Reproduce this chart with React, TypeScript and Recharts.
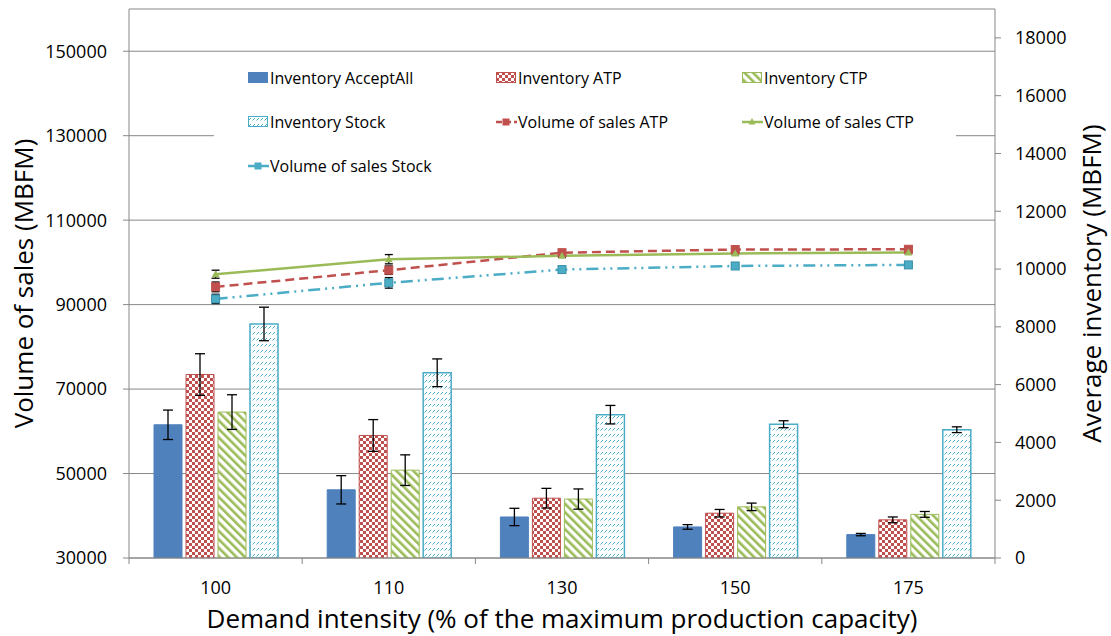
import React from "react";
import {
  Bar,
  CartesianGrid,
  ComposedChart,
  ErrorBar,
  Label,
  Legend,
  Line,
  XAxis,
  YAxis,
} from "recharts";

const demandLevels = ["100", "110", "130", "150", "175"];

// average inventory (right axis)
const invAcceptAll = [4610, 2360, 1420, 1075, 810];
const invAcceptAllErr = [510, 490, 300, 80, 40];
const invATP = [6350, 4240, 2070, 1550, 1320];
const invATPErr = [720, 550, 340, 130, 100];
const invCTP = [5050, 3040, 2040, 1770, 1510];
const invCTPErr = [600, 530, 350, 130, 100];
const invStock = [8100, 6410, 4960, 4630, 4440];
const invStockErr = [580, 480, 320, 120, 100];

// volume of sales (left axis)
const salesATP = [94200, 98150, 102300, 103050, 103100];
const salesATPErr = [1150, 1000, 400, 350, 300];
const salesCTP = [97200, 100750, 101550, 102100, 102350];
const salesCTPErr = [950, 1100, 350, 300, 300];
const salesStock = [91350, 95150, 98300, 99150, 99400];
const salesStockErr = [1100, 1250, 450, 350, 300];

const leftTicks = [30000, 50000, 70000, 90000, 110000, 130000, 150000];
const rightTicks = [0, 2000, 4000, 6000, 8000, 10000, 12000, 14000, 16000, 18000];

const BLUE = "#4F81BD";
const RED = "#C0504D";
const GREEN = "#9BBB59";
const AQUA = "#4BACC6";
const AXIS = "#878787";
const FONT = "'Open Sans', sans-serif";

const data = demandLevels.map((label, i) => ({
  label,
  acceptAll: invAcceptAll[i],
  acceptAllErr: invAcceptAllErr[i],
  atp: invATP[i],
  atpErr: invATPErr[i],
  ctp: invCTP[i],
  ctpErr: invCTPErr[i],
  stock: invStock[i],
  stockErr: invStockErr[i],
  salesAtp: salesATP[i],
  salesAtpErr: salesATPErr[i],
  salesCtp: salesCTP[i],
  salesCtpErr: salesCTPErr[i],
  salesStock: salesStock[i],
  salesStockErr: salesStockErr[i],
}));

const TICK_SIZE = 6;
const TICK_MARGIN = 17;

function DemandTick(props: any) {
  const { x, y, payload, index, visibleTicksCount, width } = props;
  const half = payload?.offset ?? width / visibleTicksCount / 2;
  const y1 = y - TICK_MARGIN - TICK_SIZE;
  const y2 = y - TICK_MARGIN;
  return (
    <g>
      <line x1={x - half} x2={x - half} y1={y1} y2={y2} stroke={AXIS} />
      {index === visibleTicksCount - 1 && (
        <line x1={x + half} x2={x + half} y1={y1} y2={y2} stroke={AXIS} />
      )}
      <text x={x} y={y} dy="0.71em" textAnchor="middle" fontSize={18} fill="#000" fontFamily={FONT}>
        {payload.value}
      </text>
    </g>
  );
}

function squareDot(color: string, size: number, stroke?: string) {
  return (props: any) => {
    const { cx, cy, index } = props;
    if (cx == null || cy == null) return <g key={index} />;
    return (
      <rect
        key={index}
        x={cx - size / 2}
        y={cy - size / 2}
        width={size}
        height={size}
        fill={color}
        stroke={stroke ?? color}
        strokeWidth={1}
      />
    );
  };
}

function triangleDot(color: string) {
  return (props: any) => {
    const { cx, cy, index } = props;
    if (cx == null || cy == null) return <g key={index} />;
    return <path key={index} d={`M${cx},${cy - 4}L${cx + 4},${cy + 3}L${cx - 4},${cy + 3}Z`} fill={color} />;
  };
}

const legendItems = [
  { name: "Inventory AcceptAll", kind: "bar", fill: BLUE, stroke: BLUE },
  { name: "Inventory ATP", kind: "bar", fill: "url(#checkRed)", stroke: RED },
  { name: "Inventory CTP", kind: "bar", fill: "url(#stripeGreen)", stroke: GREEN },
  { name: "Inventory Stock", kind: "bar", fill: "url(#dashAqua)", stroke: AQUA },
  { name: "Volume of sales ATP", kind: "line", stroke: RED, dash: "6 3", marker: "square" },
  { name: "Volume of sales CTP", kind: "line", stroke: GREEN, dash: "", marker: "triangle" },
  { name: "Volume of sales Stock", kind: "line", stroke: AQUA, dash: "", marker: "square" },
];

function LegendIcon({ item }: { item: any }) {
  if (item.kind === "bar") {
    return (
      <svg width={21} height={12} style={{ display: "block" }}>
        <rect x={0.5} y={0.5} width={19} height={10} fill={item.fill} stroke={item.stroke} />
      </svg>
    );
  }
  return (
    <svg width={21} height={12} style={{ display: "block" }}>
      <line x1={0} x2={21} y1={6} y2={6} stroke={item.stroke} strokeWidth={2.5} strokeDasharray={item.dash || undefined} />
      {item.marker === "square" ? (
        <rect x={6.5} y={2.5} width={7} height={7} fill={item.stroke} />
      ) : (
        <path d="M10,2L13.5,8.5L6.5,8.5Z" fill={item.stroke} />
      )}
    </svg>
  );
}

function LegendBox() {
  return (
    <div
      style={{
        display: "grid",
        gridTemplateColumns: "248px 246px 220px",
        gridAutoRows: "44px",
        alignItems: "center",
        paddingLeft: 34,
        fontFamily: FONT,
        fontSize: 16,
        color: "#000",
        whiteSpace: "nowrap",
      }}
    >
      {legendItems.map((item) => (
        <div key={item.name} style={{ display: "flex", alignItems: "center", gap: 1 }}>
          <LegendIcon item={item} />
          <span>{item.name}</span>
        </div>
      ))}
    </div>
  );
}

export default function App() {
  return (
    <div style={{ position: "absolute", left: 0, top: 0, width: 1111, height: 636, background: "#fff" }}>
      <ComposedChart
        width={1111}
        height={636}
        data={data}
        margin={{ top: 9, right: 0, bottom: 0, left: 0 }}
        barCategoryGap={25}
        barGap={4}
        style={{ fontFamily: FONT }}
      >
        <defs>
          <pattern id="checkRed" width={6} height={6} patternUnits="userSpaceOnUse">
            <rect width={6} height={6} fill="#fff" />
            <rect width={3} height={3} fill={RED} />
            <rect x={3} y={3} width={3} height={3} fill={RED} />
          </pattern>
          <pattern id="stripeGreen" width={6} height={6} patternUnits="userSpaceOnUse" patternTransform="rotate(-45)">
            <rect width={6} height={6} fill="#fff" />
            <rect width={2.6} height={6} fill={GREEN} />
          </pattern>
          <pattern id="dashAqua" width={4} height={6} patternUnits="userSpaceOnUse">
            <rect width={4} height={6} fill="#fff" />
            <path d="M0.5,4.5L3,2" stroke={AQUA} strokeWidth={1} />
          </pattern>
        </defs>
        <CartesianGrid yAxisId="left" vertical={false} stroke={AXIS} strokeWidth={1} />
        <XAxis
          dataKey="label"
          height={78}
          stroke={AXIS}
          tickLine={false}
          tickSize={TICK_SIZE}
          tickMargin={TICK_MARGIN}
          tick={<DemandTick />}
          interval={0}
        >
          <Label
            value="Demand intensity (% of the maximum production capacity)"
            position="insideBottom"
            offset={8}
            style={{ fontSize: 26, fill: "#000", fontFamily: FONT }}
          />
        </XAxis>
        <YAxis
          yAxisId="left"
          width={129}
          domain={[30000, 160000]}
          ticks={leftTicks}
          interval={0}
          stroke={AXIS}
          tickSize={6}
          tickMargin={16}
          tick={{ fontSize: 18, fill: "#000", fontFamily: FONT }}
          allowDataOverflow
        >
          <Label
            value="Volume of sales (MBFM)"
            angle={-90}
            position="insideLeft"
            offset={24}
            style={{ fontSize: 26, fill: "#000", textAnchor: "middle", fontFamily: FONT }}
          />
        </YAxis>
        <YAxis
          yAxisId="right"
          orientation="right"
          width={116}
          domain={[0, 19000]}
          ticks={rightTicks}
          interval={0}
          stroke={AXIS}
          tickSize={6}
          tickMargin={14}
          tick={{ fontSize: 18, fill: "#000", fontFamily: FONT }}
          allowDataOverflow
        >
          <Label
            value="Average inventory (MBFM)"
            angle={-90}
            position="insideRight"
            offset={19}
            style={{ fontSize: 26, fill: "#000", textAnchor: "middle", fontFamily: FONT }}
          />
        </YAxis>
        <Legend
          layout="horizontal"
          verticalAlign="middle"
          align="center"
          content={() => <LegendBox />}
          wrapperStyle={{ left: 214, top: 56, width: 742, height: 134, background: "#fff" }}
        />
        <Bar yAxisId="right" dataKey="acceptAll" name="Inventory AcceptAll" fill={BLUE} stroke={BLUE} isAnimationActive={false}>
          <ErrorBar dataKey="acceptAllErr" width={5} stroke="#000" strokeWidth={1.3} direction="y" />
        </Bar>
        <Bar yAxisId="right" dataKey="atp" name="Inventory ATP" fill="url(#checkRed)" stroke={RED} isAnimationActive={false}>
          <ErrorBar dataKey="atpErr" width={5} stroke="#000" strokeWidth={1.3} direction="y" />
        </Bar>
        <Bar yAxisId="right" dataKey="ctp" name="Inventory CTP" fill="url(#stripeGreen)" stroke={GREEN} isAnimationActive={false}>
          <ErrorBar dataKey="ctpErr" width={5} stroke="#000" strokeWidth={1.3} direction="y" />
        </Bar>
        <Bar yAxisId="right" dataKey="stock" name="Inventory Stock" fill="url(#dashAqua)" stroke={AQUA} strokeWidth={1.5} isAnimationActive={false}>
          <ErrorBar dataKey="stockErr" width={5} stroke="#000" strokeWidth={1.3} direction="y" />
        </Bar>
        <Line
          yAxisId="left"
          dataKey="salesAtp"
          name="Volume of sales ATP"
          stroke={RED}
          strokeWidth={2.5}
          strokeDasharray="9 5"
          dot={squareDot(RED, 8)}
          activeDot={false}
          isAnimationActive={false}
        >
          <ErrorBar dataKey="salesAtpErr" width={4} stroke="#000" strokeWidth={1.3} direction="y" />
        </Line>
        <Line
          yAxisId="left"
          dataKey="salesCtp"
          name="Volume of sales CTP"
          stroke={GREEN}
          strokeWidth={2.5}
          dot={triangleDot(GREEN)}
          activeDot={false}
          isAnimationActive={false}
        >
          <ErrorBar dataKey="salesCtpErr" width={4} stroke="#000" strokeWidth={1.3} direction="y" />
        </Line>
        <Line
          yAxisId="left"
          dataKey="salesStock"
          name="Volume of sales Stock"
          stroke={AQUA}
          strokeWidth={2.5}
          strokeDasharray="12 5 2 5 2 5"
          dot={squareDot(AQUA, 8, "#3a8fa8")}
          activeDot={false}
          isAnimationActive={false}
        >
          <ErrorBar dataKey="salesStockErr" width={4} stroke="#000" strokeWidth={1.3} direction="y" />
        </Line>
      </ComposedChart>
    </div>
  );
}
